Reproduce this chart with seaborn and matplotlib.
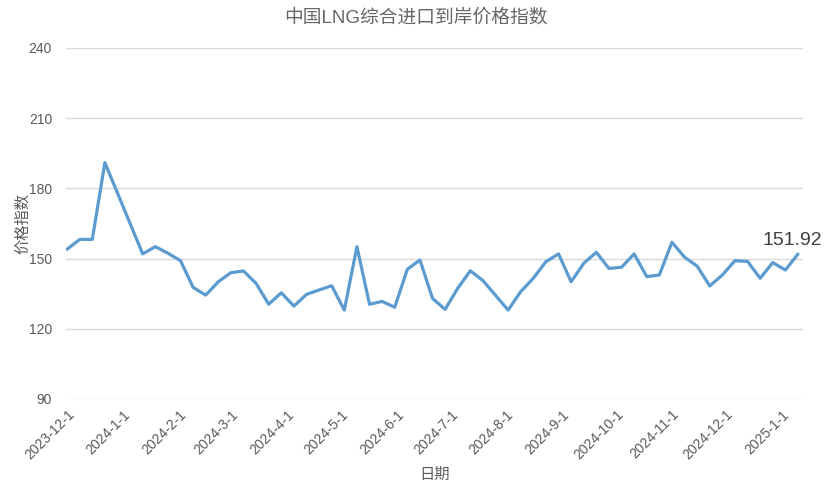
import pandas as pd
import numpy as np
import matplotlib
matplotlib.use("Agg")
import matplotlib.pyplot as plt
import matplotlib.dates as mdates
import seaborn as sns

# weekly index values
start_date = "2023-12-01"
index_values = [154.0, 158.2, 158.2, 191.0, 178.0, 165.0, 152.0, 155.1, 152.3, 149.1,
                137.7, 134.4, 140.1, 144.0, 144.7, 139.4, 130.5, 135.4, 129.7, 134.7,
                136.6, 138.4, 128.0, 155.1, 130.5, 131.7, 129.2, 145.4, 149.4, 133.0,
                128.3, 137.3, 144.8, 140.6, 134.3, 128.0, 135.9, 141.6, 148.7, 152.0,
                140.1, 148.0, 152.7, 145.8, 146.3, 152.0, 142.3, 143.0, 157.0, 150.6,
                146.8, 138.3, 143.0, 149.1, 148.8, 141.6, 148.3, 145.1, 151.92]
dates = pd.date_range(start_date, periods=len(index_values), freq="7D")
y_ticks = [90, 120, 150, 180, 210, 240]
month_ticks = pd.date_range("2023-12-01", "2025-01-01", freq="MS")
month_labels = [f"{d.year}-{d.month}-{d.day}" for d in month_ticks]

df = pd.DataFrame({"日期": dates, "价格指数": index_values})

sns.set_theme(style="white")
plt.rcParams['font.family'] = ['Liberation Sans', 'Noto Sans CJK SC', 'DejaVu Sans']

fig = plt.figure(figsize=(8.32, 4.86), dpi=100)
ax = fig.add_axes([66 / 832, 1 - 399 / 486, (803 - 66) / 832, (399 - 48) / 486])

sns.lineplot(data=df, x="日期", y="价格指数", ax=ax, color="#5b9bd0", linewidth=2.3)

ax.set_ylim(90, 240)
ax.set_yticks(y_ticks)
ax.set_xlim(dates[0] - pd.Timedelta(days=0.6), dates[-1] + pd.Timedelta(days=2.8))
ax.set_xticks(month_ticks)
ax.set_xticklabels(month_labels, rotation=45, ha="right", rotation_mode="anchor")
ax.tick_params(axis="both", length=0, labelsize=10, colors="#595959")
ax.tick_params(axis="x", pad=6)
ax.tick_params(axis="y", pad=10)
ax.grid(axis="y", color="#d9d9d9", linewidth=1)
ax.set_axisbelow(True)
for s in ax.spines.values():
    s.set_visible(False)

ax.set_xlabel("日期", fontsize=11, color="#595959", labelpad=4)
ax.set_ylabel("价格指数", fontsize=11, color="#595959")
ax.yaxis.set_label_coords(-0.049, 0.5)

# title is centred on the whole figure, not the axes
fig.text(0.5, 1 - 17.5 / 486, "中国LNG综合进口到岸价格指数", ha="center", va="center",
         fontsize=13.5, color="#666666")

# label the latest value
ax.annotate(f"{index_values[-1]:.2f}", xy=(dates[-1], index_values[-1]),
            xytext=(-4, 4), textcoords="offset points", ha="center", va="bottom",
            fontsize=14, color="#404040", annotation_clip=False)

fig.savefig("out.png", dpi=100)
